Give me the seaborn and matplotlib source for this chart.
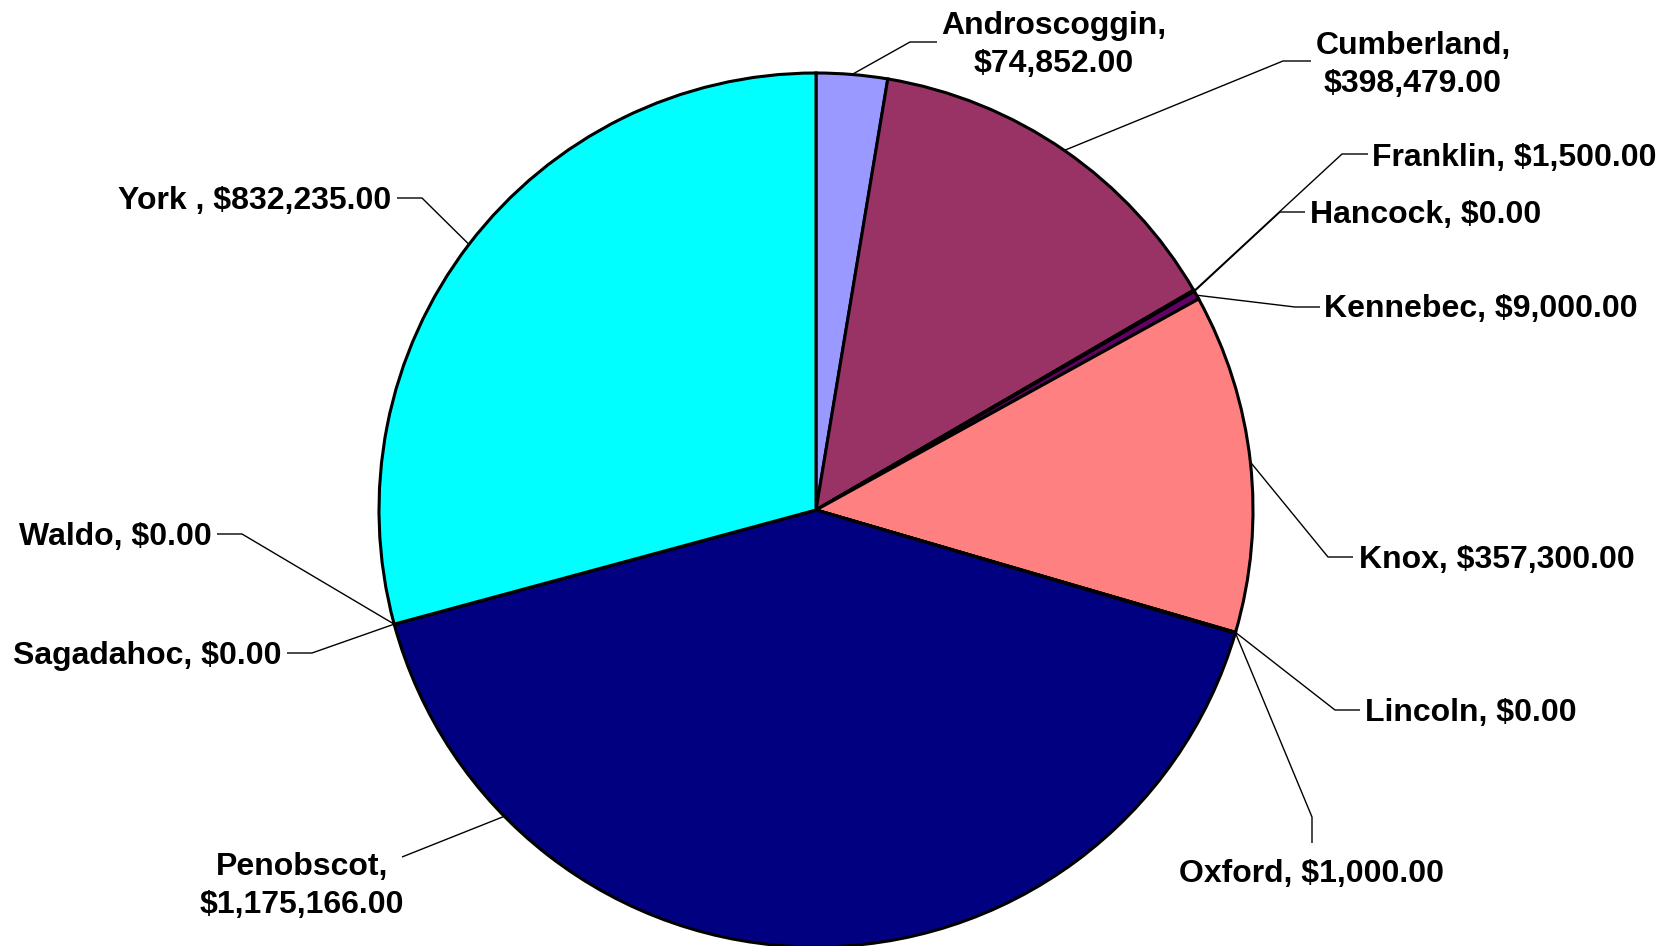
import numpy as np
import matplotlib
matplotlib.use("Agg")
import matplotlib.pyplot as plt
import seaborn as sns

# County totals
counties = ["Androscoggin", "Cumberland", "Franklin", "Hancock", "Kennebec", "Knox",
            "Lincoln", "Oxford", "Penobscot", "Sagadahoc", "Waldo", "York "]
amounts = [74852, 398479, 1500, 0, 9000, 357300, 0, 1000, 1175166, 0, 0, 832235]
two_line = ["Androscoggin", "Cumberland", "Penobscot"]

# Excel classic chart palette, in series order
palette = ["#9999FF", "#993366", "#FFFFCC", "#CCFFFF", "#660066", "#FF8080",
           "#0066CC", "#CCCCFF", "#000080", "#FF00FF", "#FFFF00", "#00FFFF"]

sns.set_theme(style="white")
plt.rcParams["font.family"] = ["Liberation Sans", "DejaVu Sans"]

W, H = 1673, 946
CX, CY, R = 816, 510, 437
TEXT_DY = 3  # small nudge so label text sits on the leader like Excel's does

# label layout in pixel coords (y down): elbow, end of leader, text anchor, alignment
# anchor_deg overrides the mid-angle point where the leader meets the pie
layout = {
    "Androscoggin": dict(elbow=(910, 42), end=(937, 42), text=(1054, 42), ha="center"),
    "Cumberland": dict(elbow=(1283, 61), end=(1311, 61), text=(1413, 62), ha="center"),
    "Franklin": dict(elbow=(1342, 154), end=(1368, 154), text=(1372, 155), ha="left"),
    "Hancock": dict(elbow=(1280, 212), end=(1305, 212), text=(1310, 212), ha="left"),
    "Kennebec": dict(elbow=(1295, 307), end=(1320, 307), text=(1324, 306), ha="left"),
    "Knox": dict(elbow=(1328, 557), end=(1353, 557), text=(1359, 557), ha="left"),
    "Lincoln": dict(elbow=(1335, 710), end=(1360, 710), text=(1365, 710), ha="left"),
    "Oxford": dict(elbow=(1312, 817), end=(1312, 843), text=(1312, 871), ha="center"),
    "Penobscot": dict(elbow=(402, 857), end=(402, 857), text=(302, 883), ha="center",
                      anchor_deg=225.5),
    "Sagadahoc": dict(elbow=(312, 653), end=(287, 653), text=(282, 653), ha="right"),
    "Waldo": dict(elbow=(242, 534), end=(217, 534), text=(212, 534), ha="right"),
    "York ": dict(elbow=(422, 198), end=(397, 198), text=(391, 198), ha="right"),
}


def fmt_label(name, value):
    sep = "\n" if name in two_line else " "
    return f"{name},{sep}${value:,.2f}"


def main():
    fig = plt.figure(figsize=(W / 100, H / 100), dpi=100)
    ax = fig.add_axes([0, 0, 1, 1])

    ax.pie(amounts, colors=palette, startangle=90, counterclock=False,
           center=(CX, H - CY), radius=R,
           wedgeprops=dict(edgecolor="black", linewidth=2.2))

    # pie() sets its own limits, so pin them to pixel space afterwards
    ax.set_xlim(0, W)
    ax.set_ylim(0, H)
    ax.set_aspect("equal")
    ax.axis("off")

    total = float(sum(amounts))
    cum = np.cumsum([0] + amounts) / total
    for i, name in enumerate(counties):
        spec = layout[name]
        deg = spec.get("anchor_deg", 360 * (cum[i] + cum[i + 1]) / 2)
        th = np.deg2rad(deg)
        ax_x, ax_y = CX + R * np.sin(th), CY - R * np.cos(th)
        xs = [ax_x, spec["elbow"][0], spec["end"][0]]
        ys = [H - ax_y, H - spec["elbow"][1], H - spec["end"][1]]
        ax.plot(xs, ys, color="black", linewidth=1.0, solid_capstyle="butt")
        tx, ty = spec["text"]
        ax.text(tx, H - ty - TEXT_DY, fmt_label(name, amounts[i]), ha=spec["ha"],
                va="center", multialignment="center", fontsize=23, fontweight="bold",
                linespacing=1.36, color="black")

    fig.savefig("out.png", dpi=100, facecolor="white")
    plt.close(fig)


if __name__ == "__main__":
    main()
